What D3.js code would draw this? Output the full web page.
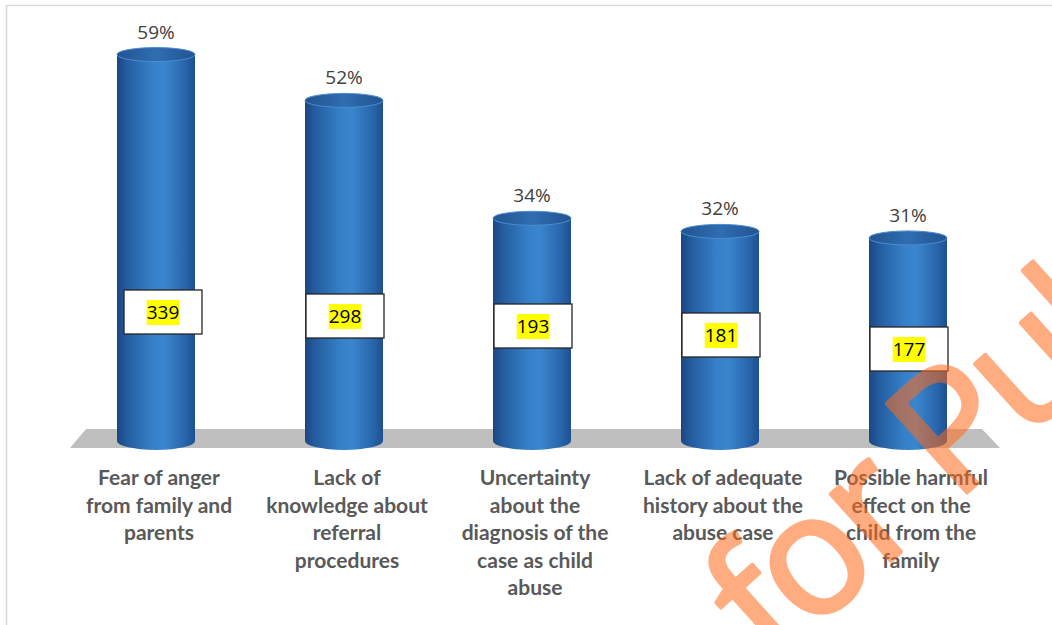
<!DOCTYPE html>
<html><head><meta charset="utf-8">
<script src="https://cdn.jsdelivr.net/npm/d3@7"></script>
<style>html,body{margin:0;padding:0;background:#fff;overflow:hidden}</style>
</head><body>
<svg id="c" width="1052" height="625"></svg>
<script>
// ---- data ----
const categories = [
  "Fear of anger\nfrom family and\nparents",
  "Lack of\nknowledge about\nreferral\nprocedures",
  "Uncertainty\nabout the\ndiagnosis of the\ncase as child\nabuse",
  "Lack of adequate\nhistory about the\nabuse case",
  "Possible harmful\neffect on the\nchild from the\nfamily"
];
const percents = [59, 52, 34, 32, 31];
const counts = [339, 298, 193, 181, 177];
// layout of the count boxes (vertical centre, px)
const countBoxY = [312, 316, 326, 335, 349];

const svg = d3.select("#c");

const x = d3.scalePoint().domain(categories).range([156, 908]);
const y = d3.scaleLinear().domain([0, 60]).range([441, 48]);

const defs = svg.append("defs");
const g = defs.append("linearGradient").attr("id","cyl").attr("x1","0").attr("x2","1").attr("y1","0").attr("y2","0");
[[0,"#1B4780"],[0.12,"#245B9E"],[0.45,"#3580C8"],[0.6,"#3A86CE"],[0.85,"#2A68AE"],[1,"#1E5090"]]
  .forEach(([o,c])=>g.append("stop").attr("offset",o).attr("stop-color",c));
const gt = defs.append("linearGradient").attr("id","top").attr("x1","0").attr("x2","1");
[[0,"#22548F"],[0.5,"#2F6DB2"],[1,"#22548F"]].forEach(([o,c])=>gt.append("stop").attr("offset",o).attr("stop-color",c));

// border (no bottom/right edge visible)
svg.append("rect").attr("x",6.5).attr("y",5.5).attr("width",1100).attr("height",700)
  .attr("fill","none").attr("stroke","#D9D9D9").attr("stroke-width",1.5);

// floor
const f0 = y(0);
svg.append("polygon")
  .attr("points",[[86,f0-12],[982,f0-12],[1000,f0+7],[70,f0+7]].map(p=>p.join(",")).join(" "))
  .attr("fill","#BFBFBF");

const rx = 39, ryT = 7, ryB = 9;
const bars = svg.append("g").selectAll("g").data(categories).join("g");
bars.append("path")
  .attr("d",(d,i)=>{
    const cx = x(d), yt = y(percents[i]), yb = y(0);
    return `M${cx-rx},${yt} L${cx-rx},${yb} A${rx},${ryB} 0 0 0 ${cx+rx},${yb} L${cx+rx},${yt} Z`;
  })
  .attr("fill","url(#cyl)");
bars.append("ellipse")
  .attr("cx",d=>x(d)).attr("cy",(d,i)=>y(percents[i]))
  .attr("rx",rx).attr("ry",ryT)
  .attr("fill","url(#top)").attr("stroke","#4C8CD2").attr("stroke-width",1);

// percent labels
bars.append("text")
  .attr("x",d=>x(d)).attr("y",(d,i)=>y(percents[i])-16)
  .attr("text-anchor","middle")
  .attr("font-family","'Open Sans', sans-serif").attr("font-size",19)
  .attr("fill","#404040")
  .text((d,i)=>percents[i]+"%");

// count boxes
bars.append("rect")
  .attr("x",(d,i)=>x(d)-39+(i===0?7:1)).attr("y",(d,i)=>countBoxY[i]-22)
  .attr("width",78).attr("height",44)
  .attr("fill","#fff").attr("stroke","#262626").attr("stroke-width",1.3);
bars.each(function(d,i){
  const gg = d3.select(this);
  const cx = x(d)+(i===0?7:1);
  const t = gg.append("text").attr("x",cx).attr("y",countBoxY[i]+7)
    .attr("text-anchor","middle")
    .attr("font-family","'Open Sans', sans-serif").attr("font-size",19)
    .attr("fill","#000").text(counts[i]);
  const bb = t.node().getBBox();
  gg.insert("rect","text:last-of-type").attr("x",bb.x).attr("y",countBoxY[i]-12)
    .attr("width",bb.width).attr("height",25).attr("fill","#FFFF00");
  t.raise();
});

// category labels
bars.each(function(d){
  const lines = d.split("\n");
  const t = d3.select(this).append("text")
    .attr("text-anchor","middle")
    .attr("font-family","Lato, sans-serif").attr("font-weight","bold")
    .attr("font-size",21).attr("fill","#595959");
  lines.forEach((l,k)=>t.append("tspan").attr("x",x(d)+3).attr("y",485+k*27.5).text(l));
});

// watermark (semi-transparent group so fill and stroke blend as one)
svg.append("g").attr("opacity",0.55)
  .append("text")
  .attr("transform","translate(772,668) rotate(-42)")
  .attr("font-family","'Open Sans', sans-serif").attr("font-weight",400).attr("font-size",168)
  .attr("letter-spacing",-6)
  .attr("fill","#FF6A1A")
  .attr("stroke","#FF6A1A").attr("stroke-width",4).attr("stroke-linejoin","round")
  .text("for Publ");
</script>
</body></html>
